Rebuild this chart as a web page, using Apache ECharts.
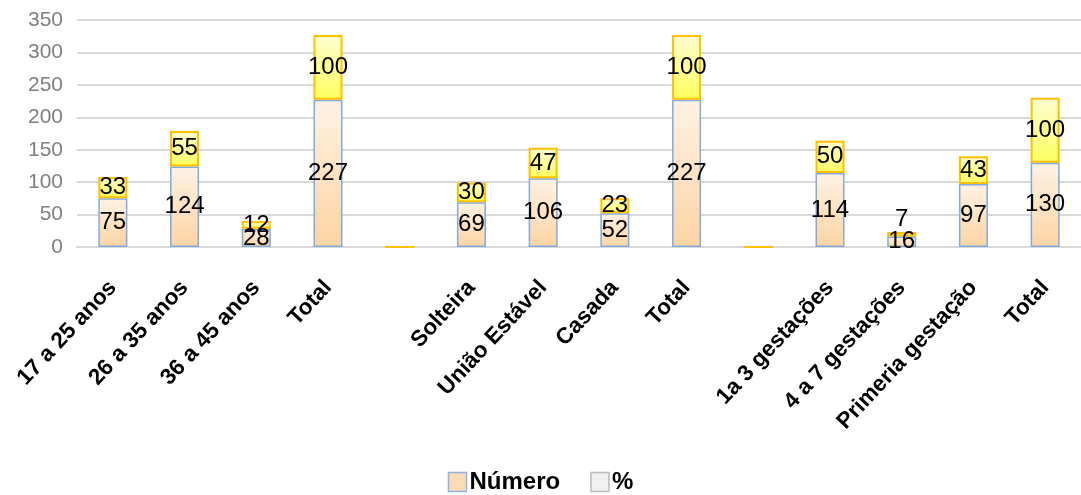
<!DOCTYPE html>
<html>
<head>
<meta charset="utf-8">
<script src="https://cdn.jsdelivr.net/npm/echarts@6/dist/echarts.min.js"></script>
<style>
  html, body { margin: 0; padding: 0; background: #fff; }
  #chart { width: 1081px; height: 495px; }
</style>
</head>
<body>
<div id="chart"></div>
<script>
// Categories: three groups (age, marital status, pregnancies), separated by empty slots
const categories = [
  '17 a 25 anos', '26 a 35 anos', '36 a 45 anos', 'Total', '',
  'Solteira', 'União Estável', 'Casada', 'Total', '',
  '1a 3 gestações', '4 a 7 gestações', 'Primeria gestação', 'Total'
];
const numero = [75, 124, 28, 227, 0, 69, 106, 52, 227, 0, 114, 16, 97, 130];
const percent = [33, 55, 12, 100, 0, 30, 47, 23, 100, 0, 50, 7, 43, 100];
const yTicks = { min: 0, max: 350, interval: 50 };

const FONT = 'Liberation Sans';

const numeroFill = new echarts.graphic.LinearGradient(0, 0, 0, 1, [
  { offset: 0, color: '#fff2e4' },
  { offset: 1, color: '#fcd4a3' }
]);
const percentFill = new echarts.graphic.LinearGradient(0, 0, 0, 1, [
  { offset: 0, color: '#ffffd2' },
  { offset: 1, color: '#ffff5e' }
]);

const valueLabel = {
  show: true,
  position: 'inside',
  color: '#000',
  fontFamily: FONT,
  fontSize: 24,
  formatter: p => (p.value === 0 ? '' : String(p.value))
};

// Thin segments get their label placed above the bar
const percentData = percent.map(v => (v > 0 && v < 10)
  ? { value: v, label: { position: 'top', distance: 1 } }
  : v);

const chart = echarts.init(document.getElementById('chart'), null, { renderer: 'canvas' });
chart.setOption({
  animation: false,
  grid: { left: 77, top: 20, width: 1013, height: 227, containLabel: false },
  legend: {
    top: 465,
    left: 'center',
    icon: 'rect',
    itemWidth: 18,
    itemHeight: 19,
    itemGap: 30,
    textStyle: { fontFamily: FONT, fontSize: 24, fontWeight: 'bold', color: '#000', padding: [0, 0, 0, -2] },
    data: [
      { name: 'Número', itemStyle: { color: '#fcdcb4', borderColor: '#8db4e2', borderWidth: 1.5 } },
      { name: '%', itemStyle: { color: '#f0f0f0', borderColor: '#bdbdbd', borderWidth: 1.5 } }
    ]
  },
  xAxis: {
    type: 'category',
    data: categories,
    axisLine: { show: true, lineStyle: { color: '#d9d9d9', width: 2 } },
    axisTick: { show: false },
    axisLabel: {
      interval: 0,
      rotate: 47,
      margin: 37,
      color: '#000',
      fontFamily: FONT,
      fontSize: 22.5,
      fontWeight: 'bold'
    }
  },
  yAxis: {
    type: 'value',
    min: yTicks.min,
    max: yTicks.max,
    interval: yTicks.interval,
    axisLine: { show: false },
    axisTick: { show: false },
    axisLabel: { color: '#7f7f7f', fontFamily: FONT, fontSize: 21, margin: 14 },
    splitLine: { lineStyle: { color: '#d9d9d9', width: 2 } }
  },
  series: [
    {
      name: 'Número',
      type: 'bar',
      stack: 'total',
      barWidth: 29,
      data: numero,
      itemStyle: { color: numeroFill, borderColor: '#7fabdc', borderWidth: 1.5 },
      label: valueLabel
    },
    {
      name: '%',
      type: 'bar',
      stack: 'total',
      barWidth: 29,
      data: percentData,
      itemStyle: { color: percentFill, borderColor: '#ffc000', borderWidth: 2 },
      label: valueLabel
    }
  ]
});
</script>
</body>
</html>
